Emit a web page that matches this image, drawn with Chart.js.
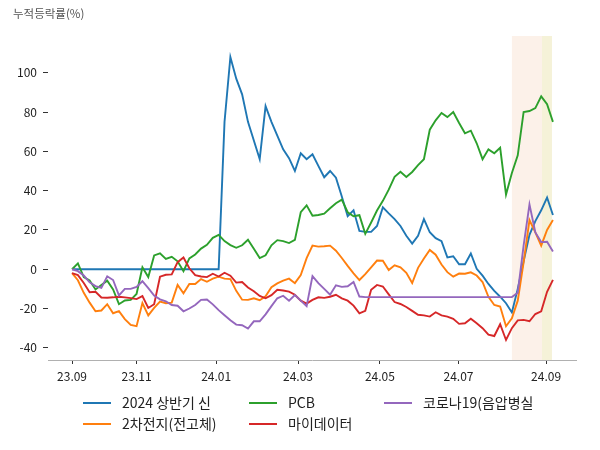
<!DOCTYPE html>
<html>
<head>
<meta charset="utf-8">
<script src="https://cdn.jsdelivr.net/npm/chart.js@4.4.1/dist/chart.umd.min.js"></script>
<style>
  body { margin: 0; background: #fff; }
</style>
</head>
<body>
<canvas id="chart" width="600" height="450"></canvas>
<script>
// one sample every 3 trading days, starting 23.09
const step = 3;

const names = ["2024 상반기 신", "2차전지(전고체)", "PCB", "마이데이터", "코로나19(음압병실"];
const colors = ["#1f77b4", "#ff7f0e", "#2ca02c", "#d62728", "#9467bd"];

const blue = [
  0, 0, 0, 0, 0, 0, 0, 0, 0, 0,
  0, 0, 0, 0, 0, 0, 0, 0, 0, 0,
  0, 0, 0, 0, 0, 0, 75, 108, 97, 89,
  75, 65.5, 56, 83, 75, 68, 61, 56.5, 50, 59,
  56, 58.5, 52.6, 46.8, 50, 46.6, 37, 27, 30, 19.5,
  19, 19, 22, 31.5, 28.4, 25.5, 22, 17, 13, 17,
  25.5, 18.8, 15.8, 14.3, 6, 6.6, 2.5, 2.5, 8, 0.2,
  -3.3, -7.5, -11, -14, -17.3, -22, -10, 4, 17.5, 24.5,
  30, 36.5, 27.6
];
const orange = [
  -2, -5.6, -12, -17, -21.4, -21, -17.8, -22.4, -21.3, -25.4,
  -28.3, -29, -17.2, -23.5, -19.7, -16.5, -17.3, -17, -8, -12.2,
  -7.5, -7.5, -5, -6.4, -4.8, -3.8, -4.8, -5, -11, -15.5,
  -15.6, -14.8, -15.8, -13.8, -9.2, -7.2, -5.8, -4.8, -7.1, -3,
  5.6, 12, 11.5, 11.7, 12, 9.4, 5.7, 1.7, -2.1, -5.5,
  -2.5, 1, 4.4, 4.3, -0.4, 2, 1, -1.8, -7, 0.7,
  5.5, 9.8, 7.4, 2.4, -1.5, -3.8, -2.2, -2.3, -1.6, -3.2,
  -6.5, -14, -18.2, -19, -29, -25, -16, 3.5, 25, 18.8,
  12, 20, 25
];
const green = [
  0, 3, -4, -5.7, -10.3, -8, -5.8, -10.3, -17.8, -15.9,
  -15.6, -12.6, 1, -4, 7, 8.1, 5.2, 6.3, 4, -1,
  5.5, 7.5, 10.5, 12.4, 16, 17.5, 14.3, 12.3, 10.9, 12.2,
  15, 10.4, 5.7, 7.1, 12.2, 14.8, 14.3, 13.3, 14.9, 29,
  32.5, 27.2, 27.6, 28.3, 31, 33.6, 35.4, 29, 27, 27.5,
  18, 23.8, 29.9, 34.8, 40.5, 47, 49.6, 47, 49.5, 53,
  56, 71, 75.8, 79.5, 77.4, 80, 74.4, 69.2, 70.5, 64.1,
  56, 61, 59, 61.8, 38, 49, 58, 80, 80.5, 82,
  88, 84, 75
];
const red = [
  -2, -3, -7, -11.7, -11.5, -14.4, -14.5, -14.3, -14, -14.3,
  -14.7, -15.2, -13.7, -19.7, -17.8, -3.8, -2.8, -2.6, 3.6, 6,
  0.5, -3, -3.7, -4, -2.3, -3.7, -1.8, -3.3, -6.8, -6.5,
  -9.3, -11.2, -13.6, -14.8, -13.2, -10.5, -10.8, -11.4, -13, -16,
  -17.5, -15.6, -14.3, -14.6, -14, -13, -14.8, -16, -18.5, -22.5,
  -21.2, -10.5, -8, -8.8, -12.8, -16.7, -17.7, -19.2, -21.2, -23.2,
  -23.5, -24.1, -21.9, -23.5, -24.1, -25.2, -27.8, -27.5, -25.2, -27.5,
  -30, -33.3, -34, -28, -36, -30, -26, -25.8, -26.5, -22.8,
  -21.4, -11.5, -5.4
];
const purple = [
  0, -1, -3.2, -6.7, -8.6, -9.5, -3.6, -5.5, -13.3, -10,
  -10, -9, -6.1, -9.6, -13.4, -15.3, -16.3, -18.2, -18.6, -21.4,
  -20, -18.2, -15.6, -15.4, -17.9, -20.8, -23.4, -26, -28.2, -28.5,
  -30.2, -26.5, -26.5, -23, -18.8, -14.8, -13.5, -16, -13.2, -16,
  -18.8, -3.5, -7.1, -10, -13, -8.2, -9, -8.7, -6.5, -13.9,
  -14.2, -14.2, -14.2, -14.2, -14.2, -14.2, -14.2, -14.2, -14.2, -14.2,
  -14.2, -14.2, -14.2, -14.2, -14.2, -14.2, -14.2, -14.2, -14.2, -14.2,
  -14.2, -14.2, -14.2, -14.2, -14.2, -14.2, -12, 12, 33, 18.7,
  13.8, 14, 9
];

const xTickPos = [0, 33, 73.7, 115.6, 157.5, 197.7, 242.5];
const xTickLabels = ["23.09", "23.11", "24.01", "24.03", "24.05", "24.07", "24.09"];
const yTicks = [-40, -20, 0, 20, 40, 60, 80, 100];

// shaded periods (trading-day index)
const bandFrom = [225, 240.4];
const bandTo = [240.4, 245.5];
const bandColors = ["#fcf1e9", "#f5f2d8"];

const series = [blue, orange, green, red, purple];
const font = "'Noto Sans CJK KR', 'Noto Sans', sans-serif";

const datasets = series.map((vals, i) => ({
  label: names[i],
  data: vals.map((v, k) => ({ x: k * step, y: v })),
  borderColor: colors[i],
  borderWidth: 1.9,
  pointRadius: 0,
  tension: 0,
  order: series.length - i
}));

const bands = {
  id: "bands",
  beforeDatasetsDraw(chart) {
    const { ctx, chartArea, scales } = chart;
    ctx.save();
    bandFrom.forEach((b, i) => {
      const x0 = scales.x.getPixelForValue(b);
      const x1 = scales.x.getPixelForValue(bandTo[i]);
      ctx.fillStyle = bandColors[i];
      ctx.fillRect(x0, chartArea.top, x1 - x0, chartArea.bottom - chartArea.top);
    });
    ctx.restore();
  }
};

const legendCols = [83, 249, 384];
const legendRows = [403, 424];
const legendSlot = [[0, 0], [0, 1], [1, 0], [1, 1], [2, 0]];

const extras = {
  id: "extras",
  afterDraw(chart) {
    const ctx = chart.ctx;
    ctx.save();
    ctx.fillStyle = "#555";
    ctx.font = "11.5px " + font;
    ctx.textBaseline = "middle";
    ctx.fillText("누적등락률(%)", 13, 14);

    ctx.font = "14px " + font;
    legendSlot.forEach(([c, r], i) => {
      const x = legendCols[c], y = legendRows[r];
      ctx.strokeStyle = colors[i];
      ctx.lineWidth = 2;
      ctx.beginPath();
      ctx.moveTo(x, y);
      ctx.lineTo(x + 28, y);
      ctx.stroke();
      ctx.fillStyle = "#222";
      ctx.fillText(names[i], x + 39, y);
    });
    ctx.restore();
  }
};

new Chart(document.getElementById("chart"), {
  type: "line",
  data: { datasets },
  options: {
    responsive: false,
    devicePixelRatio: 1,
    animation: false,
    layout: { padding: { top: 36, right: 24, bottom: 65, left: 0 } },
    plugins: { legend: { display: false }, tooltip: { enabled: false } },
    scales: {
      x: {
        type: "linear",
        min: -12.3,
        max: 257.8,
        afterFit: s => { s.height = 25; },
        afterBuildTicks: s => { s.ticks = xTickPos.map(v => ({ value: v })); },
        grid: { drawOnChartArea: false, drawTicks: true, tickLength: 4, color: "#333" },
        border: { display: true, color: "#b0b0b0", width: 1 },
        ticks: {
          autoSkip: false,
          maxRotation: 0,
          padding: 5,
          color: "#222",
          font: { family: font, size: 12 },
          callback: (v, i) => xTickLabels[i]
        }
      },
      y: {
        min: -46.2,
        max: 118.7,
        afterFit: s => { s.width = 48; },
        afterBuildTicks: s => { s.ticks = yTicks.map(v => ({ value: v })); },
        grid: { drawOnChartArea: false, drawTicks: true, tickLength: 5, color: "#333" },
        border: { display: false },
        ticks: {
          padding: 6,
          color: "#222",
          font: { family: font, size: 12 }
        }
      }
    }
  },
  plugins: [bands, extras]
});
</script>
</body>
</html>
